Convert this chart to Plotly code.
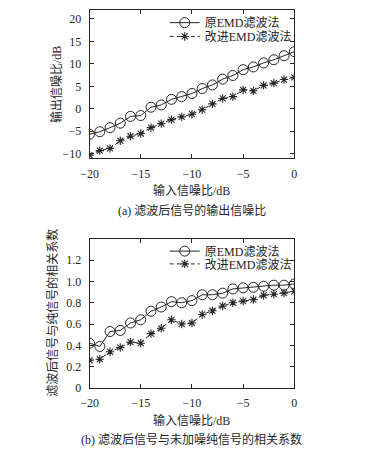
import plotly.graph_objects as go

snr_in = [-20, -19, -18, -17, -16, -15, -14, -13, -12, -11, -10,
          -9, -8, -7, -6, -5, -4, -3, -2, -1, 0]

snr_out_orig = [-5.65, -5.1, -4.2, -3.2, -1.7, -1.5, 0.35, 0.85, 2.1, 2.7, 3.4,
                4.5, 5.3, 6.6, 7.4, 8.7, 9.3, 10.2, 10.9, 11.8, 12.7]
snr_out_impr = [-10.3, -9.3, -8.8, -7.1, -6.1, -5.5, -4.2, -3.3, -2.4, -1.8, -1.2,
                -0.2, 1.1, 2.3, 2.7, 4.2, 4.0, 5.2, 5.7, 6.5, 7.0]

corr_orig = [0.42, 0.39, 0.53, 0.54, 0.61, 0.64, 0.72, 0.76, 0.81, 0.80, 0.82,
             0.875, 0.875, 0.89, 0.93, 0.94, 0.945, 0.955, 0.965, 0.965, 0.976]
corr_impr = [0.26, 0.27, 0.34, 0.38, 0.43, 0.42, 0.51, 0.56, 0.64, 0.60, 0.61,
             0.69, 0.725, 0.77, 0.80, 0.815, 0.83, 0.87, 0.88, 0.89, 0.906]

name_orig = "原EMD滤波法"
name_impr = "改进EMD滤波法"

x_ticks = [-20, -15, -10, -5, 0]
y1_ticks = [-10, -5, 0, 5, 10, 15, 20]
y2_ticks = [0, 0.2, 0.4, 0.6, 0.8, 1.0, 1.2]
y2_ticktext = ["0", "0.2", "0.4", "0.6", "0.8", "1.0", "1.2"]

FONT = "Liberation Serif, Times New Roman, Noto Sans CJK SC, serif"
INK = "#262626"
W, H = 366, 459

fig = go.Figure()

def add_pair(y_orig, y_impr, xa, ya, leg_a, leg_b):
    fig.add_trace(go.Scatter(
        x=snr_in, y=y_orig, xaxis=xa, yaxis=ya, name=name_orig, legend=leg_a,
        mode="lines+markers", showlegend=True,
        line=dict(color=INK, width=1),
        marker=dict(symbol="circle-open", size=10, color=INK, line=dict(width=1, color=INK)),
    ))
    fig.add_trace(go.Scatter(
        x=snr_in, y=y_impr, xaxis=xa, yaxis=ya, name=name_impr, legend=leg_b,
        mode="lines+markers", showlegend=True,
        line=dict(color=INK, width=1, dash="4px,3px"),
        marker=dict(symbol="asterisk-open", size=7, color=INK, line=dict(width=1.1, color=INK)),
    ))

add_pair(snr_out_orig, snr_out_impr, "x", "y", "legend", "legend3")
add_pair(corr_orig, corr_impr, "x2", "y2", "legend2", "legend4")

axis_common = dict(
    showgrid=False, zeroline=False, showline=True, linecolor=INK, linewidth=1,
    mirror="ticks", ticks="inside", ticklen=4, tickcolor=INK, tickwidth=1,
    tickfont=dict(family=FONT, size=12, color=INK),
)
xaxis_extra = dict(ticklabelstandoff=4)
yaxis_extra = dict(ticklabelstandoff=5)

def legend_at(px_y):
    return dict(x=161 / W, y=(H - px_y) / H, xanchor="left", yanchor="middle",
                bgcolor="rgba(0,0,0,0)", font=dict(family=FONT, size=12, color=INK),
                itemwidth=30, visible=True)

xd = [83.3 / W, 295 / W]
fig.update_layout(
    width=W, height=H,
    showlegend=True,
    margin=dict(l=0, r=0, t=0, b=0),
    paper_bgcolor="white", plot_bgcolor="white",
    font=dict(family=FONT, size=12, color=INK),
    xaxis=dict(domain=xd, range=[-20, 0], tickvals=x_ticks, anchor="y", **axis_common, **xaxis_extra),
    yaxis=dict(domain=[(H - 160.7) / H, (H - 10) / H], range=[-11, 22],
               tickvals=y1_ticks, anchor="x", **axis_common, **yaxis_extra),
    xaxis2=dict(domain=xd, range=[-20, 0], tickvals=x_ticks, anchor="y2", **axis_common, **xaxis_extra),
    yaxis2=dict(domain=[(H - 394) / H, (H - 242.5) / H], range=[0, 1.4],
                tickvals=y2_ticks, ticktext=y2_ticktext, anchor="x2", **axis_common, **yaxis_extra),
    legend=legend_at(23),
    legend3=legend_at(37),
    legend2=legend_at(255),
    legend4=legend_at(268),
)

ann = [
    dict(text="输入信噪比/dB", x=189 / W, y=(H - 193) / H),
    dict(text="(a) 滤波后信号的输出信噪比", x=189 / W, y=(H - 214) / H),
    dict(text="输入信噪比/dB", x=189 / W, y=(H - 427) / H),
    dict(text="(b) 滤波后信号与未加噪纯信号的相关系数", x=189 / W, y=(H - 446) / H),
    dict(text="输出信噪比/dB", x=49 / W, y=(H - 86) / H, textangle=-90),
    dict(text="滤波后信号与纯信号的相关系数", x=45 / W, y=(H - 318) / H, textangle=-90),
]
for a in ann:
    fig.add_annotation(xref="paper", yref="paper", showarrow=False,
                       xanchor="center", yanchor="middle",
                       font=dict(family=FONT, size=12, color=INK), **a)

fig.write_html("out.html",
               config={"displayModeBar": False},
               post_script="document.body.style.margin='0';document.body.style.overflow='hidden';")
